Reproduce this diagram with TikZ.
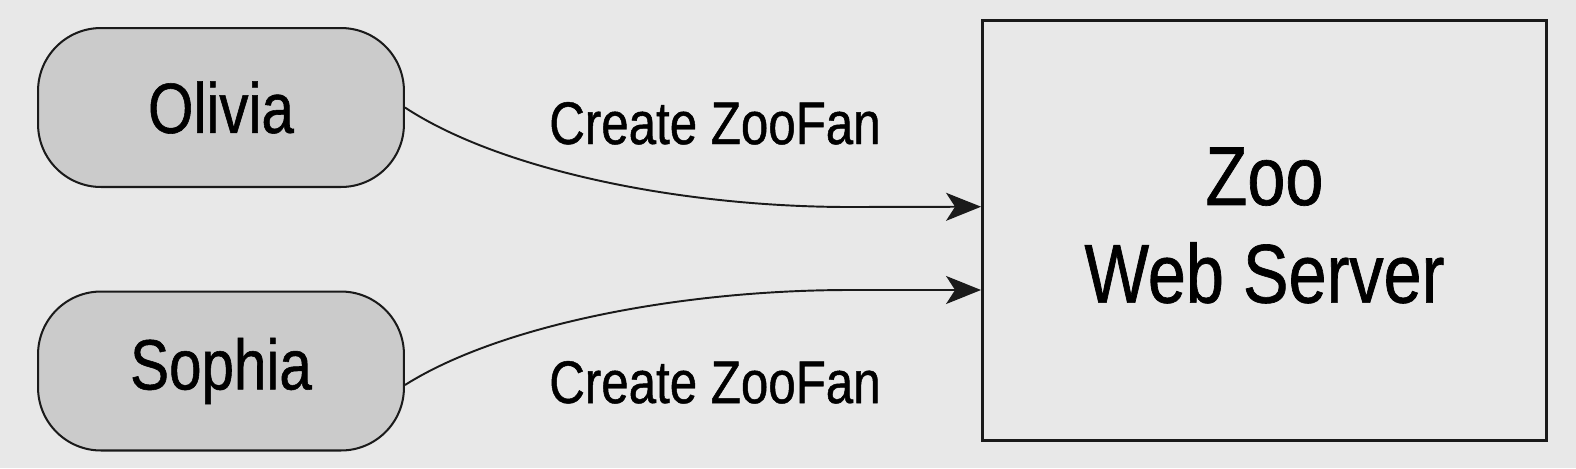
\documentclass[tikz,border=0pt]{standalone}
\usepackage{fontspec}
\setmainfont{Liberation Sans}[FakeStretch=0.82, FakeBold=0.8]
\usetikzlibrary{arrows.meta}
\definecolor{bgGray}{HTML}{E8E8E8}
\definecolor{pillGray}{HTML}{CBCBCB}
\definecolor{inkBlack}{HTML}{1A1A1A}
\tikzset{
  actor/.style={draw=inkBlack, fill=pillGray, line width=1.15pt, rounded corners=1.26cm,
    minimum width=7.32cm, minimum height=3.18cm, inner sep=0pt,
    font=\fontsize{40.5}{48}\selectfont},
  server/.style={draw=inkBlack, line width=1.7pt, minimum width=11.28cm,
    minimum height=8.4cm, inner sep=0pt},
  servertext/.style={inner sep=0pt, align=center,
    font=\fontsize{47.5}{55.6}\selectfont},
  msg/.style={anchor=base, inner sep=0pt, font=\fontsize{34.2}{40}\selectfont},
  call/.style={draw=inkBlack, line width=1.1pt,
    -{Stealth[length=0.7cm, width=0.56cm, inset=0.18cm]}}
}
\begin{document}
\begin{tikzpicture}[x=0.02cm, y=-0.02cm]
  \fill[bgGray] (0,0) rectangle (1576,468);
  \useasboundingbox (0,0) rectangle (1576,468);

  % the two clients and the server
  \node[actor] (olivia) at (221,107.5) {Olivia};
  \node[actor] (sophia) at (221,371) {Sophia};
  \node[server] (zoo) at (1264.5,230.5) {};
  \node[servertext] (zootext) at ([yshift=0.1cm]zoo.center) {Zoo\\Web Server};

  % calls to the server
  \draw[call] (olivia.east) .. controls (500,170) and (680,207) .. (850,207)
    -- ([yshift=0.476cm]zoo.west);
  \draw[call] ([yshift=-0.28cm]sophia.east) .. controls (500,325) and (680,290) .. (850,290)
    -- ([yshift=-1.19cm]zoo.west);

  \node[msg] (msgolivia) at (715,144) {Create ZooFan};
  \node[msg] (msgsophia) at (715,403) {Create ZooFan};
\end{tikzpicture}
\end{document}
